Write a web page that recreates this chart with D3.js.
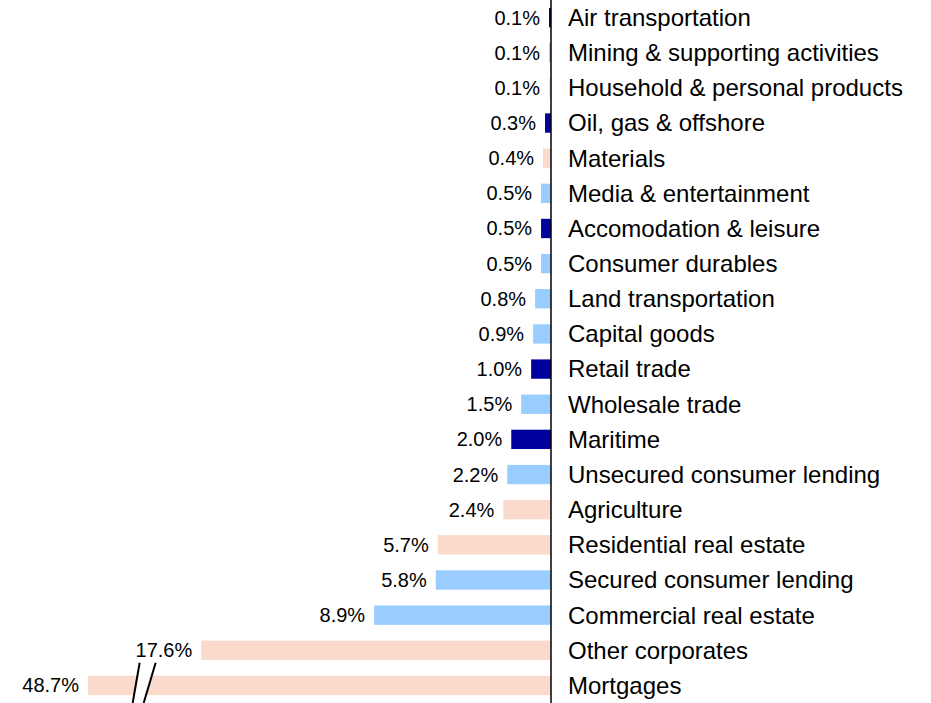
<!DOCTYPE html>
<html>
<head>
<meta charset="utf-8">
<script src="https://cdn.jsdelivr.net/npm/d3@7"></script>
<style>
  body { margin: 0; background: #fff; }
  text { font-family: "Liberation Sans", Arial, sans-serif; fill: #000; }
</style>
</head>
<body>
<svg id="chart" width="931" height="703"></svg>
<script>
var categories = ["Air transportation", "Mining & supporting activities", "Household & personal products",
    "Oil, gas & offshore", "Materials", "Media & entertainment", "Accomodation & leisure",
    "Consumer durables", "Land transportation", "Capital goods", "Retail trade", "Wholesale trade",
    "Maritime", "Unsecured consumer lending", "Agriculture", "Residential real estate",
    "Secured consumer lending", "Commercial real estate", "Other corporates", "Mortgages"];
var values = [0.1, 0.1, 0.1, 0.3, 0.4, 0.5, 0.5, 0.5, 0.8, 0.9, 1.0, 1.5, 2.0, 2.2, 2.4, 5.7, 5.8, 8.9, 17.6, 48.7];
var groups = ["navy", "blue", "peach", "navy", "peach", "blue", "navy", "blue", "blue", "blue",
    "navy", "blue", "navy", "blue", "peach", "peach", "blue", "blue", "peach", "peach"];
var colors = { navy: "#00009c", blue: "#99ccff", peach: "#f9dacb" };

/* bars longer than this are cut and get a break mark */
var cutAt = 23.3;
var breakAt = 20.65;

var svg = d3.select("#chart");
var axisX = 551;

var x = d3.scaleLinear().domain([0, cutAt]).range([axisX, axisX - 463]);
var y = d3.scaleBand().domain(categories).range([0, 703]).paddingInner(0.45).paddingOuter(0.225);

var rows = svg.selectAll("g.row")
    .data(categories)
    .enter().append("g")
    .attr("class", "row");

rows.append("rect")
    .attr("x", function(d, i) { return x(Math.min(values[i], cutAt)); })
    .attr("y", function(d) { return y(d); })
    .attr("width", function(d, i) { return axisX - x(Math.min(values[i], cutAt)); })
    .attr("height", y.bandwidth())
    .attr("fill", function(d, i) { return colors[groups[i]]; });

rows.append("text")
    .attr("x", function(d, i) { return x(Math.min(values[i], cutAt)) - 9; })
    .attr("y", function(d) { return y(d) + y.bandwidth() / 2; })
    .attr("dy", "0.35em")
    .attr("text-anchor", "end")
    .style("font-size", "20px")
    .text(function(d, i) { return values[i].toFixed(1) + "%"; });

rows.append("text")
    .attr("x", axisX + 17)
    .attr("y", function(d) { return y(d) + y.bandwidth() / 2; })
    .attr("dy", "0.35em")
    .style("font-size", "24px")
    .text(function(d) { return d; });

// axis line
svg.append("line")
    .attr("x1", axisX).attr("x2", axisX)
    .attr("y1", 0).attr("y2", 703)
    .attr("stroke", "#000")
    .attr("stroke-width", 1.5);

// break mark on the cut bar
values.forEach(function(v, i) {
    if (v <= cutAt) return;
    var bx = x(breakAt);
    var top = y(categories[i]) - 13, bottom = 703;
    svg.append("path")
        .attr("d", "M" + (bx - 1) + "," + top + "L" + (bx + 15) + "," + top +
            "L" + (bx + 3) + "," + bottom + "L" + (bx - 8) + "," + bottom + "Z")
        .attr("fill", "#fff");
    [[-1, -8], [15, 3]].forEach(function(p) {
        svg.append("line")
            .attr("x1", bx + p[0]).attr("y1", top)
            .attr("x2", bx + p[1]).attr("y2", bottom)
            .attr("stroke", "#000")
            .attr("stroke-width", 2);
    });
});
</script>
</body>
</html>
